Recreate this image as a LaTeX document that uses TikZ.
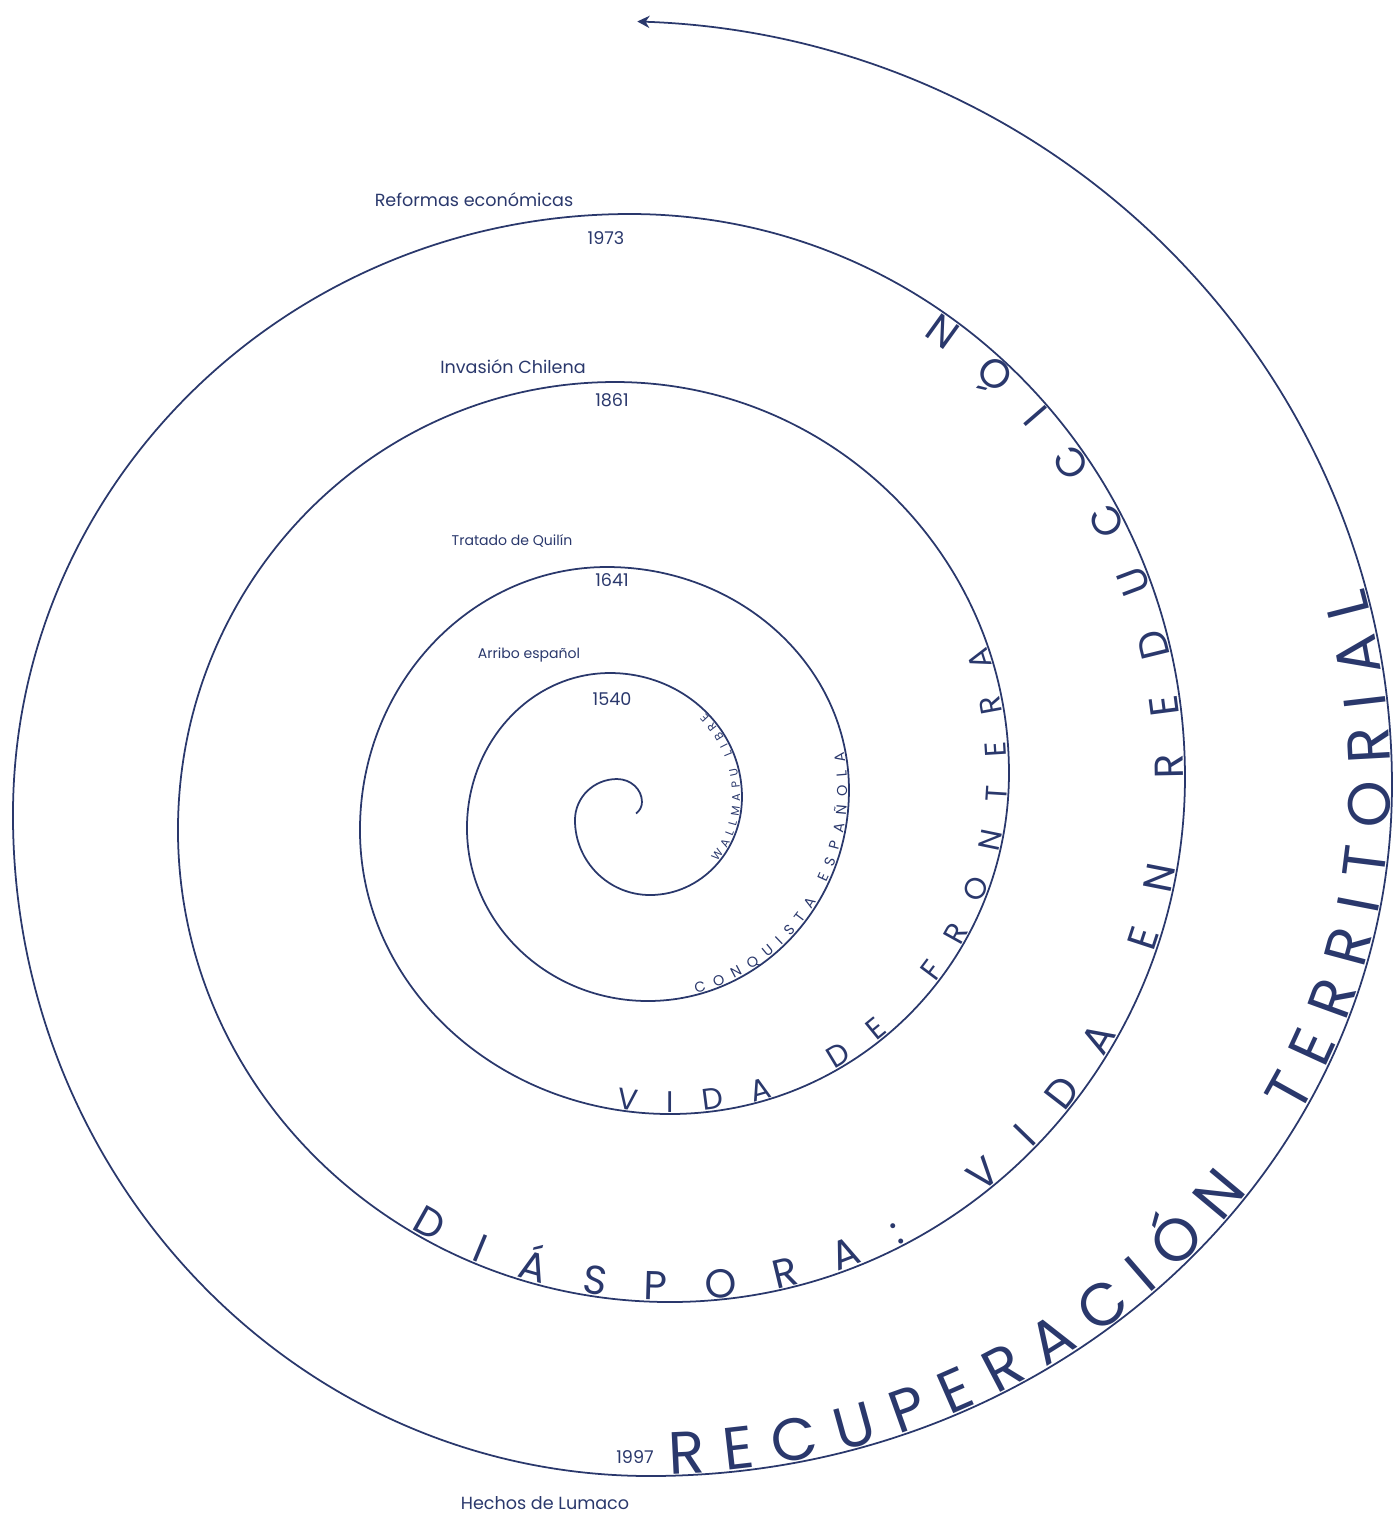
\documentclass[tikz,border=0pt]{standalone}
\usepackage{fontspec}
\setmainfont{Poppins}
\usepackage{tikz}
\usetikzlibrary{arrows.meta, decorations.text}
\definecolor{spiral_blue}{RGB}{42, 56, 108}

\begin{document}
\begin{tikzpicture}[x=0.2mm, y=0.2mm, >={Stealth[length=7pt, width=7pt]},
      spiral/.style={draw=spiral_blue, line width=1pt},
      lbl/.style={text=spiral_blue, inner sep=0pt, anchor=base, font=\fontsize{10}{12}\selectfont},
      small lbl/.style={lbl, font=\fontsize{8}{10}\selectfont},
      curved/.style={decorate, decoration={text along path, text align=fit to path, text color=spiral_blue, raise=1pt}}]
    \useasboundingbox (0,0) rectangle (1395,1513);

    % the spiral, one quarter of an ellipse after the other
    \draw[spiral, ->] (636,699.5) arc[start angle=-55, end angle=0, radius=14]
      \foreach \a/\rx/\ry in {0/25/23, 90/42/41, 180/75/75, 270/92/98,
                              0/132/124, 90/143/155, 180/181/173, 270/201/211,
                              0/242/223, 90/247/263, 180/310/284, 270/339/341,
                              0/394/391, 90/437/448, 180/492/472, 270/515/525,
                              0/555/563, 90/617/601, 180/637/661, 270/742/691}
        { arc[start angle=\a, delta angle=90, x radius=\rx, y radius=\ry] }
      arc[start angle=0, end angle=88, x radius=782, y radius=764];

    % dates and events
    \node[small lbl] (arribo)   at (529,854)  {Arribo español};
    \node[lbl]       (y1540)    at (612,807)  {1540};
    \node[small lbl] (tratado)  at (512,967)  {Tratado de Quilín};
    \node[lbl]       (y1641)    at (612,926)  {1641};
    \node[lbl]       (invasion) at (513,1139) {Invasión Chilena};
    \node[lbl]       (y1861)    at (612,1106) {1861};
    \node[lbl]       (reformas) at (474,1306) {Reformas económicas};
    \node[lbl]       (y1973)    at (606,1268) {1973};
    \node[lbl]       (y1997)    at (635,50)   {1997};
    \node[lbl]       (lumaco)   at (545,3)    {Hechos de Lumaco};

    % periods written along the spiral
    \path[curved, decoration={text={|\fontsize{6.5}{8}\selectfont|WALLMAPU LIBRE}}]
      ([shift={(650,716)}]318:92 and 98) arc[start angle=318, end angle=360, x radius=92, y radius=98]
      arc[start angle=0, end angle=43, x radius=132, y radius=124];
    \path[curved, decoration={text={|\fontsize{8.2}{10}\selectfont|CONQUISTA ESPAÑOLA}}]
      ([shift={(648,723)}]284:201 and 211) arc[start angle=284, end angle=360, x radius=201, y radius=211]
      arc[start angle=0, end angle=10, x radius=242, y radius=223];
    \path[curved, decoration={text={|\fontsize{17}{20}\selectfont|VIDA DE FRONTERA}}]
      ([shift={(670,683)}]260:310 and 284) arc[start angle=260, end angle=270, x radius=310, y radius=284]
      arc[start angle=270, end angle=360, x radius=339, y radius=341]
      arc[start angle=0, end angle=19, x radius=394, y radius=391];
    \path[curved, decoration={text={|\fontsize{23}{27}\selectfont|DIÁSPORA: VIDA EN REDUCCIÓN}}]
      ([shift={(670,683)}]238:492 and 472) arc[start angle=238, end angle=270, x radius=492, y radius=472]
      arc[start angle=270, end angle=360, x radius=515, y radius=525]
      arc[start angle=0, end angle=56, x radius=555, y radius=563];
    \path[curved, decoration={text={|\fontsize{34}{40}\selectfont|RECUPERACIÓN~ TERRITORIAL}}]
      ([shift={(650,728)}]271.5:742 and 691) arc[start angle=271.5, end angle=360, x radius=742, y radius=691]
      arc[start angle=0, end angle=15, x radius=782, y radius=764];
  \end{tikzpicture}
\end{document}
